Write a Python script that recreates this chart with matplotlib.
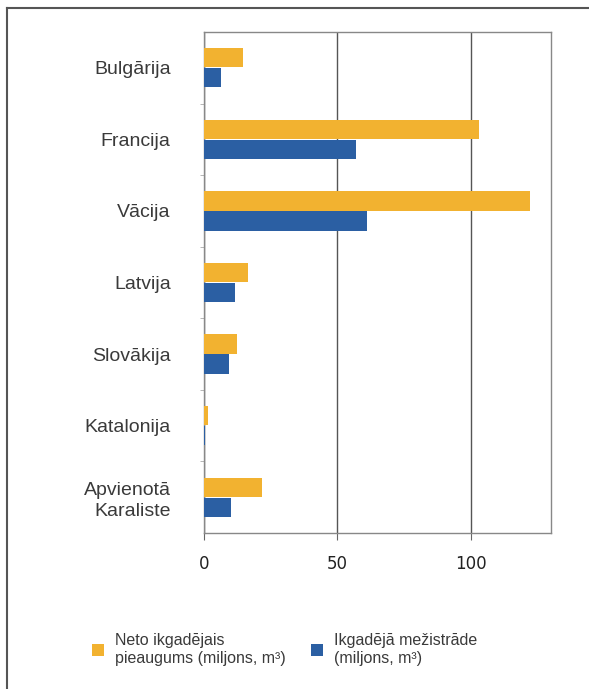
import numpy as np
import matplotlib.pyplot as plt
from matplotlib.lines import Line2D

# dati
valstis = ['Bulgārija', 'Francija', 'Vācija', 'Latvija', 'Slovākija',
           'Katalonija', 'Apvienotā\nKaraliste']
pieaugums = [14.7, 103, 122, 16.6, 12.3, 1.5, 21.7]   # neto ikgadējais pieaugums
mezistrade = [6.3, 57, 61, 11.7, 9.5, 0.5, 10]        # ikgadējā mežistrāde
x_ticks = [0, 50, 100]
leg_labels = ['Neto ikgadējais\npieaugums (miljons, m³)',
              'Ikgadējā mežistrāde\n(miljons, m³)']

dzeltens = '#F2B230'
zils = '#2B5FA3'

fig = plt.figure(figsize=(5.89, 6.89), dpi=100)
ax = fig.add_axes([0.3464, 0.2264, 0.5891, 0.7272])

y = np.arange(len(valstis))
h = 0.27
b1 = ax.barh(y - 0.14, pieaugums, height=h, color=dzeltens, zorder=3)
b2 = ax.barh(y + 0.14, mezistrade, height=h, color=zils, zorder=3)

ax.set_ylim(len(valstis) - 0.5, -0.5)
ax.set_xlim(0, 130)
ax.set_yticks(y)
ax.set_yticklabels(valstis, fontsize=14, color='#3a3a3a',
                   family=['Liberation Sans', 'DejaVu Sans'])
for t in ax.get_yticklabels():
    t.set_multialignment('right')
    t.set_linespacing(1.3)
ax.tick_params(axis='y', length=0, pad=24)
ax.set_yticks(y[:-1] + 0.5, minor=True)
ax.tick_params(axis='y', which='minor', length=3, color='#aaaaaa')

ax.set_xticks(x_ticks)
ax.set_xticklabels([str(v) for v in x_ticks], fontsize=12, color='#222222')
ax.tick_params(axis='x', length=5, color='#666666', pad=11)

ax.grid(axis='x', color='#555555', linewidth=1.0, zorder=1)
ax.set_axisbelow(True)
for s in ax.spines.values():
    s.set_color('#888888')
    s.set_linewidth(1.0)

# leģenda
leg = fig.legend([b1, b2], leg_labels, ncol=2, loc='lower left',
                 bbox_to_anchor=(0.131, 0.012), frameon=False,
                 handlelength=0.75, handleheight=0.75, handletextpad=0.7,
                 columnspacing=1.6, prop={'family': 'Liberation Sans', 'size': 11.5})
for t in leg.get_texts():
    t.set_color('#3a3a3a')
    t.set_linespacing(1.3)

# rāmis
fig.add_artist(Line2D([0.012, 0.012], [0, 0.988], color='#555555', lw=1.5,
                      transform=fig.transFigure))
fig.add_artist(Line2D([0.012, 1.0], [0.988, 0.988], color='#555555', lw=1.5,
                      transform=fig.transFigure))

fig.savefig('out.png', dpi=100)
